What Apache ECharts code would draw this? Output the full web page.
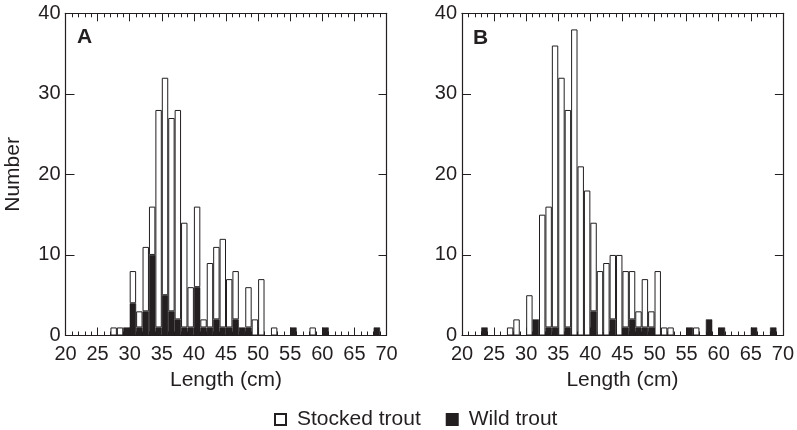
<!DOCTYPE html>
<html>
<head>
<meta charset="utf-8">
<script src="https://cdn.jsdelivr.net/npm/echarts@6/dist/echarts.min.js"></script>
<style>
  html, body { margin: 0; padding: 0; background: #fff; }
  #chart { width: 797px; height: 430px; }
</style>
</head>
<body>
<div id="chart"></div>
<script>
// 1-cm length bins (lower edge, cm)
const bins = ['20','21','22','23','24','25','26','27','28','29',
              '30','31','32','33','34','35','36','37','38','39',
              '40','41','42','43','44','45','46','47','48','49',
              '50','51','52','53','54','55','56','57','58','59',
              '60','61','62','63','64','65','66','67','68','69'];
const xTicks = [20, 25, 30, 35, 40, 45, 50, 55, 60, 65, 70];
const yTicks = [0, 10, 20, 30, 40];

// Panel A
const wildA = [0,0,0,0,0,0,0,0,0,1,
               4,1,3,10,1,5,3,2,1,1,
               6,1,1,2,1,1,2,1,1,0,
               0,0,0,0,0,1,0,0,0,0,
               1,0,0,0,0,0,0,0,1,0];
const stockedA = [0,0,0,0,0,0,0,1,1,0,
                  4,2,8,6,27,27,24,26,13,5,
                  10,1,8,9,11,6,6,0,5,2,
                  7,0,1,0,0,0,0,0,1,0,
                  0,0,0,0,0,0,0,0,0,0];
// Panel B
const wildB = [0,0,0,1,0,0,0,0,0,0,
               0,2,0,1,1,0,1,0,0,0,
               3,0,0,2,0,1,2,1,1,1,
               0,0,0,0,0,1,0,0,2,0,
               1,0,0,0,0,1,0,0,1,0];
const stockedB = [0,0,0,0,0,0,0,1,2,0,
                  5,0,15,15,35,32,27,38,21,18,
                  11,8,9,8,10,7,6,2,6,2,
                  8,1,1,0,0,0,1,0,0,0,
                  0,0,0,0,0,0,0,0,0,0];

const panelLabels = ['A', 'B'];
const ink = '#231f20';
const font = 'Liberation Sans, Arial, sans-serif';

const nz = arr => arr.map(v => (v === 0 ? '-' : v));

const grids = [
  { left: 65.5, right: 410.5, top: 13.3, bottom: 94.5 },
  { left: 462, right: 14, top: 13.3, bottom: 94.5 }
];

const xAxis = [], yAxis = [], series = [];
const panels = [[wildA, stockedA], [wildB, stockedB]];

panels.forEach((p, gi) => {
  const catIdx = xAxis.length;
  xAxis.push({ gridIndex: gi, type: 'category', data: bins, show: false, boundaryGap: true });
  xAxis.push({
    gridIndex: gi, type: 'value', position: 'bottom',
    min: xTicks[0], max: xTicks[xTicks.length - 1], interval: 5,
    axisLine: { lineStyle: { color: ink, width: 1.2 } },
    axisTick: { inside: true, length: 8, lineStyle: { color: ink } },
    minorTick: { show: true, splitNumber: 5, length: 4, lineStyle: { color: ink } },
    splitLine: { show: false },
    axisLabel: { color: ink, fontSize: 20, fontFamily: font, margin: 9 },
    name: 'Length (cm)', nameLocation: 'middle', nameGap: 34,
    nameTextStyle: { color: ink, fontSize: 21, fontFamily: font }
  });
  xAxis.push({
    gridIndex: gi, type: 'value', position: 'top',
    min: xTicks[0], max: xTicks[xTicks.length - 1], interval: 5,
    axisLine: { lineStyle: { color: ink, width: 1.2 } },
    axisTick: { inside: true, length: 8, lineStyle: { color: ink } },
    minorTick: { show: true, splitNumber: 5, length: 4, lineStyle: { color: ink } },
    splitLine: { show: false },
    axisLabel: { show: false }
  });
  const yIdx = yAxis.length;
  yAxis.push({
    gridIndex: gi, type: 'value', position: 'left',
    min: yTicks[0], max: yTicks[yTicks.length - 1], interval: 10,
    axisLine: { show: true, lineStyle: { color: ink, width: 1.2 } },
    axisTick: { show: true, inside: true, length: 9, lineStyle: { color: ink } },
    splitLine: { show: false },
    axisLabel: { color: ink, fontSize: 20, fontFamily: font, margin: 5 },
    name: gi === 0 ? 'Number' : '', nameLocation: 'middle', nameGap: 42,
    nameTextStyle: { color: ink, fontSize: 21, fontFamily: font }
  });
  yAxis.push({
    gridIndex: gi, type: 'value', position: 'right',
    min: yTicks[0], max: yTicks[yTicks.length - 1], interval: 10,
    axisLine: { show: true, lineStyle: { color: ink, width: 1.2 } },
    axisTick: { show: true, inside: true, length: 8, lineStyle: { color: ink } },
    splitLine: { show: false },
    axisLabel: { show: false }
  });
  series.push({
    name: 'Wild trout', type: 'bar', xAxisIndex: catIdx, yAxisIndex: yIdx,
    stack: 'p' + gi, barCategoryGap: '0%', data: nz(p[0]),
    itemStyle: { color: ink, borderColor: ink, borderWidth: 0.6 },
    silent: true, animation: false
  });
  series.push({
    name: 'Stocked trout', type: 'bar', xAxisIndex: catIdx, yAxisIndex: yIdx,
    stack: 'p' + gi, barCategoryGap: '0%', data: nz(p[1]),
    itemStyle: { color: '#ffffff', borderColor: ink, borderWidth: 1 },
    silent: true, animation: false
  });
});

const chart = echarts.init(document.getElementById('chart'), null, { renderer: 'canvas' });
chart.setOption({
  animation: false,
  backgroundColor: '#ffffff',
  textStyle: { fontFamily: font, color: ink },
  title: [
    { text: panelLabels[0], left: 77, top: 27, padding: 0,
      textStyle: { fontSize: 21, fontWeight: 'bold', color: ink, fontFamily: font } },
    { text: panelLabels[1], left: 473, top: 28, padding: 0,
      textStyle: { fontSize: 21, fontWeight: 'bold', color: ink, fontFamily: font } }
  ],
  legend: {
    data: ['Stocked trout', 'Wild trout'],
    left: 274, top: 409, padding: 0,
    icon: 'rect', itemWidth: 11, itemHeight: 11, itemGap: 25,
    textStyle: { fontSize: 21, color: ink, fontFamily: font, padding: [0, 0, 0, 6] },
    selectedMode: false
  },
  grid: grids,
  xAxis: xAxis,
  yAxis: yAxis,
  series: series
});
</script>
</body>
</html>
